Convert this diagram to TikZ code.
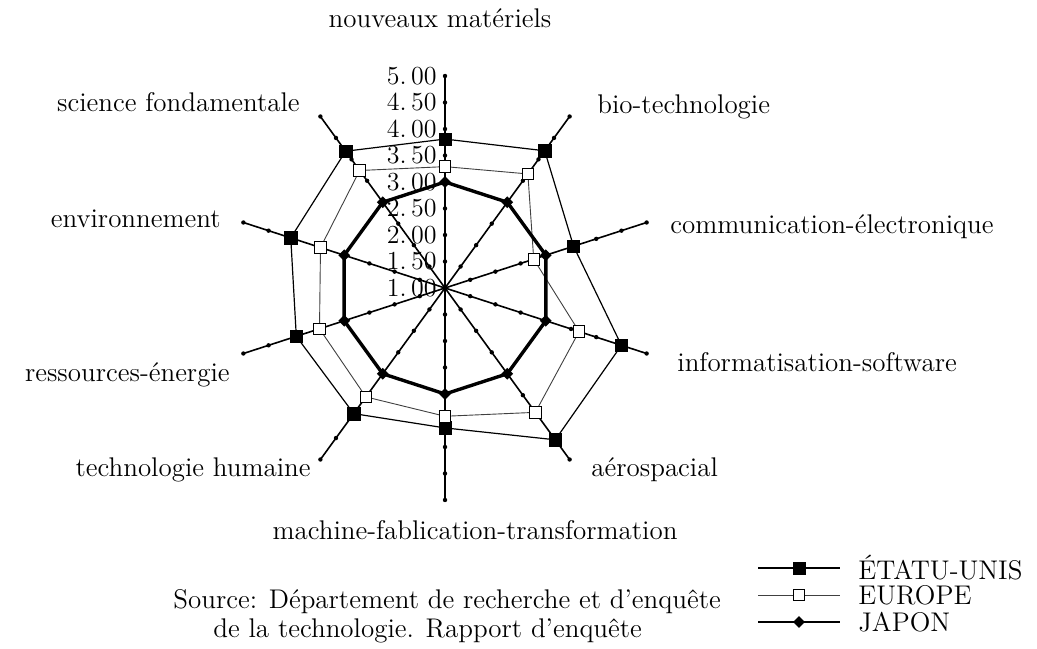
\documentclass[tikz,border=0pt]{standalone}
\usetikzlibrary{shapes.geometric}
\begin{document}
\begin{tikzpicture}[x=0.5pt,y=0.5pt,
    axisline/.style={line width=0.8pt},
    tickdot/.style={circle,fill,inner sep=0pt,minimum size=2.2pt},
    usline/.style={line width=0.6pt},
    euline/.style={line width=0.45pt,black!75},
    jpline/.style={line width=1.7pt},
    usmark/.style={rectangle,draw,fill,inner sep=0pt,minimum size=6.2pt,line width=0.3pt},
    eumark/.style={rectangle,draw,fill=white,inner sep=0pt,minimum size=5.8pt,line width=0.4pt},
    jpmark/.style={diamond,fill,inner sep=0pt,minimum size=6pt},
    lbl/.style={font=\fontsize{13.5}{16}\selectfont,inner sep=0pt},
    ticklbl/.style={font=\fontsize{13}{15}\selectfont,inner sep=0pt,anchor=east}]
  \useasboundingbox (0,0) rectangle (1037,648);
  \begin{scope}[shift={(445,360)}]
    \coordinate (o) at (0,0);
    % axes with a dot every 0.50
    \foreach \a in {0,...,9} {
      \coordinate (a\a) at ({90-36*\a}:212);
      \draw[axisline] (o) -- (a\a);
      \foreach \t in {1,...,8}
        \node[tickdot] (t\a-\t) at ({90-36*\a}:{26.5*\t}) {};
    }
    \node[tickdot] (t0) at (o) {};
    % scale on the upright axis
    \foreach \v [count=\t from 0] in {1.\,00,1.\,50,2.\,00,2.\,50,3.\,00,3.\,50,4.\,00,4.\,50,5.\,00}
      \node[ticklbl] (s\t) at (-8,{26.5*\t}) {\v};
    % series
    \foreach \v [count=\i from 0] in {3.81,4.20,3.55,4.50,4.54,3.64,3.93,3.95,4.06,4.19}
      \coordinate (us\i) at ({90-36*\i}:{(\v-1)*53});
    \foreach \v [count=\i from 0] in {3.29,3.66,2.76,3.66,3.90,3.42,3.54,3.49,3.47,3.74}
      \coordinate (eu\i) at ({90-36*\i}:{(\v-1)*53});
    \foreach \v [count=\i from 0] in {3.00,3.00,3.00,3.00,3.00,3.00,3.00,3.00,3.00,3.00}
      \coordinate (jp\i) at ({90-36*\i}:{(\v-1)*53});
    \draw[usline] (us0) \foreach \i in {1,...,9} { -- (us\i) } -- cycle;
    \draw[euline] (eu0) \foreach \i in {1,...,9} { -- (eu\i) } -- cycle;
    \draw[jpline,line join=miter] (jp0) \foreach \i in {1,...,9} { -- (jp\i) } -- cycle;
    \foreach \i in {0,...,9} {
      \node[usmark] (usm\i) at (us\i) {};
      \node[eumark] (eum\i) at (eu\i) {};
      \node[jpmark] (jpm\i) at (jp\i) {};
    }
  \end{scope}
  % axis names
  \node[lbl,anchor=base] (n0) at (440,620) {nouveaux matériels};
  \node[lbl,anchor=base west] (n1) at (597,534) {bio-technologie};
  \node[lbl,anchor=base west] (n2) at (670,414) {communication-électronique};
  \node[lbl,anchor=base west] (n3) at (677,277) {informatisation-software};
  \node[lbl,anchor=base west] (n4) at (591,172) {aérospacial};
  \node[lbl,anchor=base] (n5) at (475,109) {machine-fablication-transformation};
  \node[lbl,anchor=base east] (n6) at (311,172) {technologie humaine};
  \node[lbl,anchor=base east] (n7) at (230,266) {ressources-énergie};
  \node[lbl,anchor=base east] (n8) at (221,420) {environnement};
  \node[lbl,anchor=base east] (n9) at (300,536) {science fondamentale};
  % source
  \node[lbl,anchor=base west] (src1) at (173,40) {Source: Département de recherche et d'enquête};
  \node[lbl,anchor=base west] (src2) at (213,11) {de la technologie. Rapport d'enquête};
  % legend
  \coordinate (lgusa) at (758,80);  \coordinate (lgusb) at (840,80);
  \coordinate (lgeua) at (758,53);  \coordinate (lgeub) at (840,53);
  \coordinate (lgjpa) at (758,26);  \coordinate (lgjpb) at (840,26);
  \draw[line width=0.9pt] (lgusa) -- (lgusb);
  \draw[euline] (lgeua) -- (lgeub);
  \draw[line width=0.9pt] (lgjpa) -- (lgjpb);
  \node[usmark] (lgusm) at (799,80) {};
  \node[eumark] (lgeum) at (799,53) {};
  \node[jpmark] (lgjpm) at (799,26) {};
  \node[lbl,anchor=west] (lgus) at (858,80) {ÉTATU-UNIS};
  \node[lbl,anchor=west] (lgeu) at (858,53) {EUROPE};
  \node[lbl,anchor=west] (lgjp) at (858,26) {JAPON};
\end{tikzpicture}
\end{document}
